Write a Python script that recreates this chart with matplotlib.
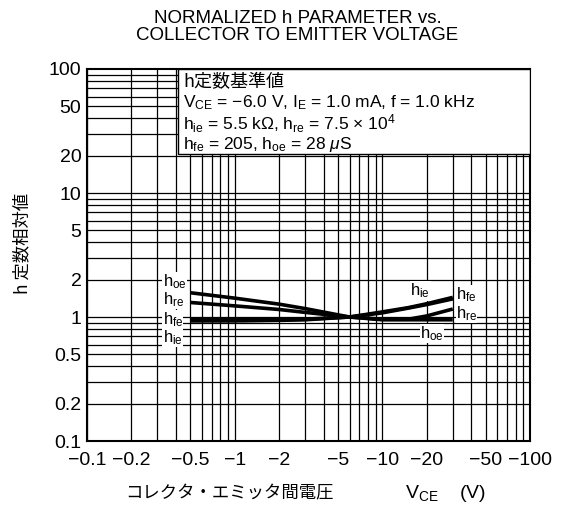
import matplotlib
matplotlib.use("Agg")
import matplotlib.pyplot as plt
from matplotlib.patches import Rectangle
import numpy as np

plt.rcParams['font.family'] = ['Liberation Sans', 'Noto Sans CJK JP', 'DejaVu Sans']
plt.rcParams['mathtext.fontset'] = 'custom'
plt.rcParams['mathtext.rm'] = 'Liberation Sans'
plt.rcParams['mathtext.it'] = 'Liberation Sans:italic'

# |VCE| (V) and normalized h parameters
vce = [0.5, 1, 2, 3, 6, 10, 15, 20, 30]
h_oe = [1.57, 1.42, 1.27, 1.17, 1.0, 0.95, 0.95, 0.95, 0.95]
h_re = [1.31, 1.23, 1.15, 1.09, 1.0, 0.96, 0.96, 1.02, 1.16]
h_fe = [0.95, 0.95, 0.95, 0.96, 1.0, 1.08, 1.18, 1.26, 1.40]
h_ie = [0.93, 0.93, 0.94, 0.95, 1.0, 1.10, 1.19, 1.28, 1.44]

tick_vals = [0.1, 0.2, 0.5, 1, 2, 5, 10, 20, 50, 100]
x_tick_labels = ["\u22120.1", "\u22120.2", "\u22120.5", "\u22121", "\u22122",
                 "\u22125", "\u221210", "\u221220", "\u221250", "\u2212100"]
y_tick_labels = ["0.1", "0.2", "0.5", "1", "2", "5", "10", "20", "50", "100"]

cjk = ['Noto Sans CJK JP', 'DejaVu Sans']

fig = plt.figure(figsize=(5.67, 5.18), dpi=100)
ax = fig.add_axes([0.1534, 0.1486, 0.7813, 0.7182])

ax.set_xscale("log")
ax.set_yscale("log")
ax.set_xlim(0.1, 100)
ax.set_ylim(0.1, 100)

# log grid, major and minor
for d in [0.1, 1, 10]:
    for m in range(1, 10):
        ax.axvline(d * m, color="black", lw=0.9, zorder=1)
        ax.axhline(d * m, color="black", lw=0.9, zorder=1)

for s in [h_oe, h_re, h_fe, h_ie]:
    ax.plot(vce, s, color="black", lw=2.6, solid_capstyle="butt", zorder=3)

ax.set_xticks(tick_vals)
ax.set_xticklabels(x_tick_labels)
ax.set_yticks(tick_vals)
ax.set_yticklabels(y_tick_labels)
ax.minorticks_off()
ax.tick_params(length=0, labelsize=14)
ax.tick_params(axis="x", pad=8)
ax.tick_params(axis="y", pad=4)
for sp in ax.spines.values():
    sp.set_linewidth(1.5)

# curve labels
lab = dict(fontsize=12, va="center", zorder=4,
           bbox=dict(facecolor="white", edgecolor="none", pad=0.2))
ax.text(0.325, 1.92, r"h$_{\rm oe}$", **lab)
ax.text(0.325, 1.38, r"h$_{\rm re}$", **lab)
ax.text(0.325, 0.96, r"h$_{\rm fe}$", **lab)
ax.text(0.325, 0.68, r"h$_{\rm ie}$", **lab)
ax.text(15.5, 1.62, r"h$_{\rm ie}$", **lab)
ax.text(31.5, 1.52, r"h$_{\rm fe}$", **lab)
ax.text(31.5, 1.07, r"h$_{\rm re}$", **lab)
ax.text(18.0, 0.74, r"h$_{\rm oe}$", **lab)

# reference values box
ax.add_patch(Rectangle((0.205, 0.772), 0.795, 0.228, transform=ax.transAxes,
                       facecolor="white", edgecolor="black", lw=1.0, zorder=5))
bx = 0.217
bfs = 12.5
ax.text(bx, 0.966, "h定数基準値", transform=ax.transAxes, fontsize=bfs + 0.5,
        va="center", zorder=6, family=cjk)
ax.text(bx, 0.910, r"V$_{\rm CE}$ = $-$6.0 V, I$_{\rm E}$ = 1.0 mA, f = 1.0 kHz",
        transform=ax.transAxes, fontsize=bfs, va="center", zorder=6)
ax.text(bx, 0.852, r"h$_{\rm ie}$ = 5.5 k$\Omega$, h$_{\rm re}$ = 7.5 $\times$ 10$^{4}$",
        transform=ax.transAxes, fontsize=bfs, va="center", zorder=6)
ax.text(bx, 0.796, r"h$_{\rm fe}$ = 205, h$_{\rm oe}$ = 28 $\mu$S",
        transform=ax.transAxes, fontsize=bfs, va="center", zorder=6)

ax.set_title("NORMALIZED h PARAMETER vs.\nCOLLECTOR TO EMITTER VOLTAGE",
             fontsize=13.5, linespacing=1.0, pad=21, x=0.475)

# x axis label: Japanese part plus symbol/unit part
fig.text(125 / 567, 0.048, "コレクタ・エミッタ間電圧", fontsize=12.5,
         family=cjk, ha="left", va="center")
fig.text(405 / 567, 0.048, r"V$_{\rm CE}$    (V)", fontsize=14,
         ha="left", va="center")
ax.set_ylabel("h 定数相対値", fontsize=12.5, family=cjk)
ax.yaxis.set_label_coords(-0.125, 0.53)

fig.savefig("out.png", dpi=100)
